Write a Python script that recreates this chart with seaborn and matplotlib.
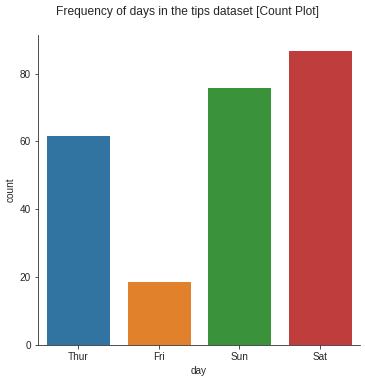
import pandas as pd
import matplotlib
matplotlib.use("Agg")
import matplotlib.pyplot as plt
import seaborn as sns

# --- data ---
days = ["Thur", "Fri", "Sun", "Sat"]
counts = [62, 19, 76, 87]

df = pd.DataFrame({"day": days, "count": counts})

sns.set_style("ticks")
plt.rcParams['font.family'] = ['Liberation Sans', 'DejaVu Sans']

fig = plt.figure(figsize=(365 / 72, 381 / 72), dpi=72)
ax = fig.add_axes([38 / 365, 1 - 345 / 381, (360 - 38) / 365, (345 - 35) / 381])

sns.barplot(data=df, x="day", y="count", hue="day", palette="tab10",
            order=days, hue_order=days, legend=False, ax=ax)
ax.set_xlabel("day")
ax.set_ylabel("count")
ax.set_ylim(0, 91.35)
sns.despine(ax=ax)

fig.suptitle("Frequency of days in the tips dataset [Count Plot]",
             x=188 / 365, y=1 - 12 / 381, va="center")

fig.savefig("out.png", dpi=72)
